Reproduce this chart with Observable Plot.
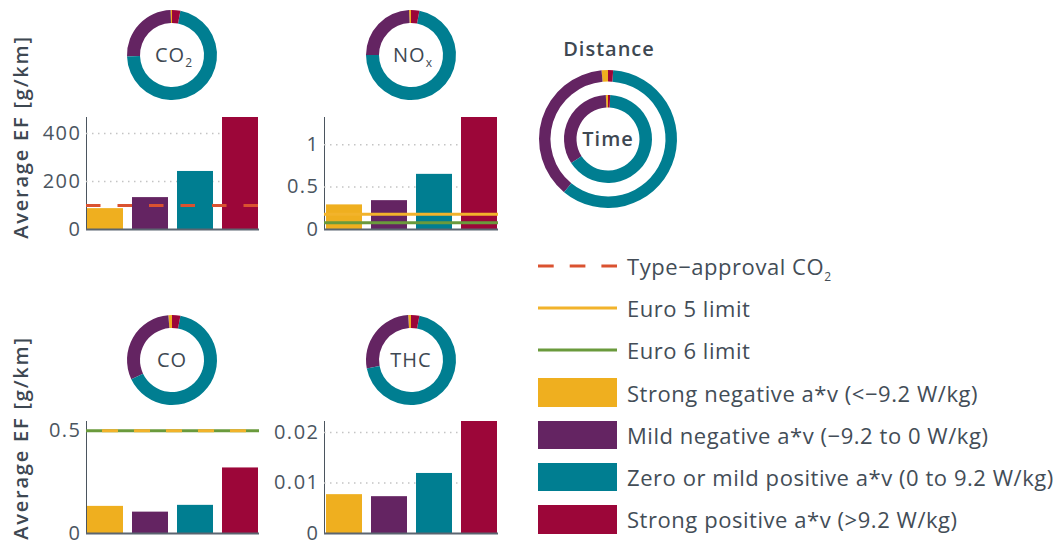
<!DOCTYPE html>
<html><head><meta charset="utf-8">
<script src="https://cdn.jsdelivr.net/npm/d3@7"></script>
<script src="https://cdn.jsdelivr.net/npm/@observablehq/plot@0.6"></script>
<style>
body{margin:0;background:#fff;}
#root{position:relative;width:1061px;height:545px;overflow:hidden;font-family:"Open Sans",sans-serif;color:#3e4852;background:#fff;}
.abs{position:absolute;}
.ylab{position:absolute;font-size:20px;font-weight:600;letter-spacing:1.8px;white-space:nowrap;transform:translate(-50%,-50%) rotate(-90deg);color:#3e4852;}
.legtxt{position:absolute;left:627px;font-size:22px;letter-spacing:0.55px;white-space:nowrap;transform:translateY(-50%);color:#434d57;}
.legtxt sub{font-size:12px;vertical-align:-6px;line-height:0;}
.sw{position:absolute;left:538px;}
.title{position:absolute;font-size:20px;font-weight:600;letter-spacing:1px;transform:translate(-50%,-50%);white-space:nowrap;color:#3e4852;}
</style></head><body><div id="root"></div>
<script>
// ---------- data ----------
const categories = ["Strong negative a*v (<\u22129.2 W/kg)", "Mild negative a*v (\u22129.2 to 0 W/kg)", "Zero or mild positive a*v (0 to 9.2 W/kg)", "Strong positive a*v (>9.2 W/kg)"];
const catColors = ["#EFAF1F", "#642462", "#007E91", "#9C0639"];

const co2EF = [87, 133, 242, 467];
const noxEF = [0.29, 0.34, 0.65, 1.32];
const coEF = [0.132, 0.104, 0.137, 0.319];
const thcEF = [0.0077, 0.0073, 0.0119, 0.0222];

const co2Share = [0.5, 25, 71.5, 3];
const noxShare = [0.7, 24.3, 72, 3];
const coShare = [1.3, 30.7, 65, 3];
const thcShare = [1, 27, 69, 3];
const distanceShare = [1.5, 37.5, 59.8, 1.2];
const timeShare = [0.8, 33.4, 65, 0.8];

const co2Ticks = [0, 200, 400];
const noxTicks = [0, 0.5, 1];
const coTicks = [0, 0.5];
const thcTicks = [0, 0.01, 0.02];

const typeApprovalCO2 = 100;
const noxEuro5 = 0.18, noxEuro6 = 0.08;
const coEuro5 = 0.5, coEuro6 = 0.5;

const lineLegend = [
  {label: "Type\u2212approval CO", sub: "2", color: "#DA5230", dash: "15.7,16"},
  {label: "Euro 5 limit", sub: "", color: "#F2B32B", dash: null},
  {label: "Euro 6 limit", sub: "", color: "#6A9A3C", dash: null}
];

const FONT = '"Open Sans", sans-serif';
const root = document.getElementById("root");

function place(node, left, top) {
  const d = document.createElement("div");
  d.className = "abs";
  d.style.left = left + "px"; d.style.top = top + "px";
  d.appendChild(node);
  root.appendChild(d);
}

// ---------- bar panels ----------
function barPanel({values, yMax, ticks, extra, width, marginLeft, marginRight}) {
  const data = categories.map((c, i) => ({cat: c, value: values[i]}));
  return Plot.plot({
    width, height: 136, marginLeft, marginRight, marginTop: 12, marginBottom: 12,
    style: {fontFamily: FONT, fontSize: "20px", letterSpacing: "1.5px", color: "#4b555f", background: "transparent", overflow: "visible"},
    x: {domain: categories, paddingInner: 0.2, paddingOuter: 0, axis: null},
    y: {domain: [0, yMax], ticks, tickFormat: d => `${d}`, tickSize: 0, tickPadding: 5, line: true, label: null},
    color: {domain: categories, range: catColors},
    marks: [
      Plot.ruleY(ticks.filter(t => t > 0), {stroke: "#c4c4c4", strokeWidth: 1.5, strokeDasharray: "1.5,4.5"}),
      Plot.barY(data, {x: "cat", y: "value", fill: "cat"}),
      ...extra,
      Plot.ruleY([0], {stroke: "#5b6570", strokeWidth: 2})
    ]
  });
}

place(barPanel({values: co2EF, yMax: 467, ticks: co2Ticks, width: 262, marginLeft: 86, marginRight: 3,
  extra: [Plot.ruleY([typeApprovalCO2], {stroke: "#DA5230", strokeWidth: 3, strokeDasharray: "14.5,17"})]}), 0, 105);
place(barPanel({values: noxEF, yMax: 1.32, ticks: noxTicks, width: 240, marginLeft: 62, marginRight: 4,
  extra: [Plot.ruleY([noxEuro5], {stroke: "#F2B32B", strokeWidth: 3}),
          Plot.ruleY([noxEuro6], {stroke: "#6A9A3C", strokeWidth: 3})]}), 262, 105);
place(barPanel({values: coEF, yMax: 0.545, ticks: coTicks, width: 262, marginLeft: 86, marginRight: 3,
  extra: [Plot.ruleY([coEuro6], {stroke: "#6A9A3C", strokeWidth: 3}),
          Plot.ruleY([coEuro5], {stroke: "#F2B32B", strokeWidth: 3, strokeDasharray: "16,16", strokeDashoffset: 16})]}), 0, 409);
place(barPanel({values: thcEF, yMax: 0.0222, ticks: thcTicks, width: 240, marginLeft: 62, marginRight: 4,
  extra: []}), 262, 409);

// ---------- donuts ----------
function donutPlot({size, rings, label, sub, weight, spacing}) {
  return Plot.plot({
    width: size, height: size, margin: 5,
    style: {background: "transparent", overflow: "visible"},
    x: {domain: [-1, 1], axis: null},
    y: {domain: [-1, 1], axis: null},
    marks: [
      (index, scales, values, dims) => {
        const g = d3.create("svg:g");
        const iw = dims.width - dims.marginLeft - dims.marginRight;
        const ih = dims.height - dims.marginTop - dims.marginBottom;
        const cx = scales.x ? scales.x(0) : dims.marginLeft + iw / 2;
        const cy = scales.y ? scales.y(0) : dims.marginTop + ih / 2;
        const k = scales.x ? Math.abs(scales.x(1) - scales.x(0)) : iw / 2;
        for (const ring of rings) {
          const arcs = d3.pie().sort(null).startAngle(0).endAngle(-2 * Math.PI)(ring.shares);
          const arc = d3.arc().innerRadius(ring.inner * k).outerRadius(ring.outer * k);
          g.append("g").attr("transform", `translate(${cx},${cy})`)
            .selectAll("path").data(arcs).join("path")
            .attr("d", arc).attr("fill", (d, i) => catColors[i]);
        }
        if (label) {
          const t = g.append("text").attr("x", cx + (sub ? 2 : 0)).attr("y", cy + 7)
            .attr("text-anchor", "middle").attr("fill", "#3e4852")
            .attr("font-family", FONT).attr("font-size", 20).attr("font-weight", weight || 500)
            .attr("letter-spacing", spacing || "1px");
          t.append("tspan").text(label);
          if (sub) t.append("tspan").attr("dy", 5).attr("font-size", 12).text(sub);
        }
        return g.node();
      }
    ]
  });
}

const polInner = 32 / 45;
place(donutPlot({size: 100, rings: [{shares: co2Share, inner: polInner, outer: 1}], label: "CO", sub: "2"}), 122, 5);
place(donutPlot({size: 100, rings: [{shares: noxShare, inner: polInner, outer: 1}], label: "NO", sub: "x"}), 361, 5);
place(donutPlot({size: 100, rings: [{shares: coShare, inner: polInner, outer: 1}], label: "CO", sub: ""}), 122, 309.5);
place(donutPlot({size: 100, rings: [{shares: thcShare, inner: polInner, outer: 1}], label: "THC", sub: ""}), 361, 309.5);
place(donutPlot({size: 148, rings: [
  {shares: distanceShare, inner: 57.5 / 69, outer: 1},
  {shares: timeShare, inner: 31.5 / 69, outer: 44 / 69}
], label: "Time", sub: "", weight: 600, spacing: "1px"}), 533.5, 64.5);

// ---------- text ----------
function addDiv(cls, html, left, top) {
  const d = document.createElement("div");
  d.className = cls; d.innerHTML = html;
  d.style.left = left + "px"; d.style.top = top + "px";
  root.appendChild(d);
}
addDiv("title", "Distance", 609, 48);
addDiv("ylab", "Average EF [g/km]", 20, 137);
addDiv("ylab", "Average EF [g/km]", 20, 438);

// ---------- legend ----------
const rowY = i => 266 + i * 42.2;
lineLegend.forEach((item, i) => {
  const y = rowY(i);
  const svg = d3.create("svg").attr("width", 79).attr("height", 8);
  svg.append("line").attr("x1", 0).attr("x2", 79).attr("y1", 4).attr("y2", 4)
    .attr("stroke", item.color).attr("stroke-width", 3).attr("stroke-dasharray", item.dash);
  const s = svg.node(); s.classList.add("sw"); s.style.top = (y - 4) + "px";
  root.appendChild(s);
  addDiv("legtxt", item.label + (item.sub ? `<sub>${item.sub}</sub>` : ""), 627, y);
});
categories.forEach((c, i) => {
  const y = rowY(i + 3);
  const sw = document.createElement("div");
  sw.className = "sw";
  sw.style.top = (y - 14.3) + "px"; sw.style.width = "79px"; sw.style.height = "28.7px";
  sw.style.background = catColors[i];
  root.appendChild(sw);
  addDiv("legtxt", c, 627, y);
});
</script></body></html>
